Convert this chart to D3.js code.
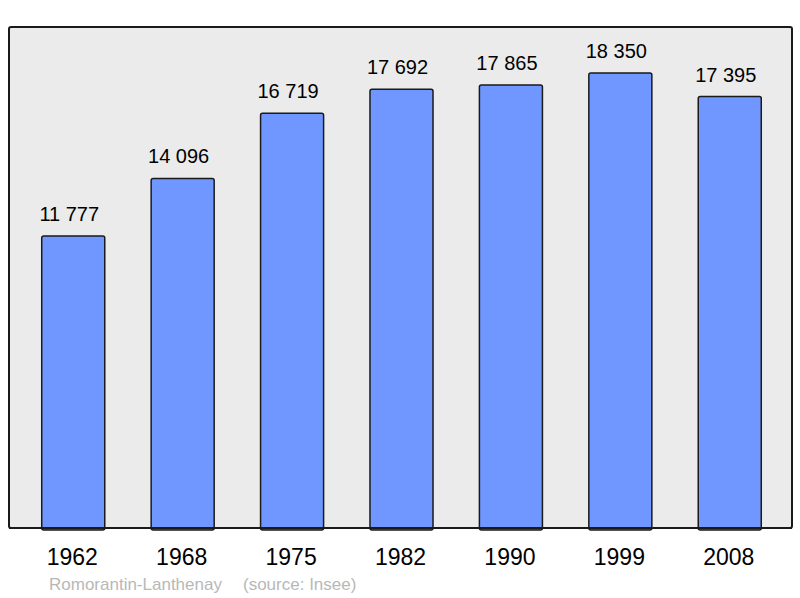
<!DOCTYPE html>
<html>
<head>
<meta charset="utf-8">
<script src="https://cdn.jsdelivr.net/npm/d3@7"></script>
<style>
  body { margin: 0; background: #fff; }
  text { font-family: "Liberation Sans", Arial, sans-serif; }
</style>
</head>
<body>
<div id="chart"></div>
<script>
const years = ["1962", "1968", "1975", "1982", "1990", "1999", "2008"];
const population = [11777, 14096, 16719, 17692, 17865, 18350, 17395];
const captionName = "Romorantin-Lanthenay";
const captionSource = "(source: Insee)";

const width = 800, height = 598;
let frame = {left: 9, top: 27, right: 792, bottom: 528};

let svg = d3.select("#chart")
      .append("svg")
      .attr("width", width)
      .attr("height", height);

let x = d3.scaleBand()
      .domain(years)
      .range([frame.left + 1, frame.right + 1])
      .paddingInner(0.424)
      .paddingOuter(0.29);

let y = d3.scaleLinear()
      .domain([0, 20200])
      .range([frame.bottom, frame.top]);

svg.append("rect")
      .attr("x", frame.left)
      .attr("y", frame.top)
      .attr("width", frame.right - frame.left)
      .attr("height", frame.bottom - frame.top)
      .attr("rx", 2)
      .attr("fill", "#ebebeb")
      .attr("stroke", "#1a1a1a")
      .attr("stroke-width", 2);

const data = years.map((d, i) => ({year: d, value: population[i]}));

svg.selectAll(".bar")
      .data(data)
      .enter().append("rect")
      .attr("class", "bar")
      .attr("x", d => x(d.year))
      .attr("y", d => y(d.value))
      .attr("width", x.bandwidth())
      .attr("height", d => y(0) - y(d.value) + 2)
      .attr("rx", 2)
      .attr("fill", "#7097ff")
      .attr("stroke", "#1a1a1a")
      .attr("stroke-width", 1.5);

// bottom frame line over bar bottoms
svg.append("line")
      .attr("x1", frame.left)
      .attr("x2", frame.right)
      .attr("y1", frame.bottom)
      .attr("y2", frame.bottom)
      .attr("stroke", "#1a1a1a")
      .attr("stroke-width", 2);

const fmt = v => d3.format(",")(v).replace(",", " ");

svg.selectAll(".val")
      .data(data)
      .enter().append("text")
      .attr("class", "val")
      .attr("x", d => x(d.year) + x.bandwidth() / 2 - 4)
      .attr("y", d => y(d.value) - 15)
      .attr("text-anchor", "middle")
      .attr("font-size", 20)
      .attr("fill", "#000")
      .text(d => fmt(d.value));

let axis = d3.axisBottom(x).tickSize(0).tickPadding(0);
let gx = svg.append("g")
      .attr("transform", "translate(-1," + 565 + ")")
      .call(axis);
gx.select(".domain").remove();
gx.selectAll("text")
      .attr("dy", 0)
      .attr("font-size", 23)
      .attr("font-family", "Liberation Sans, Arial, sans-serif")
      .attr("fill", "#000");

svg.append("text")
      .attr("x", 49)
      .attr("y", 590)
      .attr("font-size", 17)
      .attr("fill", "#b8b8b8")
      .text(captionName);

svg.append("text")
      .attr("x", 243)
      .attr("y", 590)
      .attr("font-size", 17)
      .attr("fill", "#b8b8b8")
      .text(captionSource);
</script>
</body>
</html>
